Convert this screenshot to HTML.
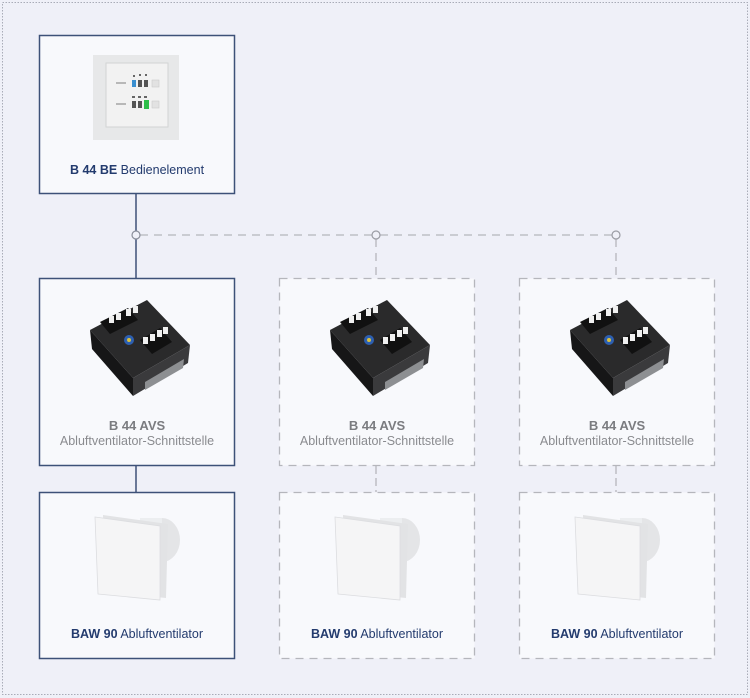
<!DOCTYPE html>
<html><head><meta charset="utf-8"><style>
html,body{margin:0;padding:0;background:#eff0f8;}
svg{display:block;}
text{font-family:"Liberation Sans",sans-serif;}
</style></head><body>
<svg width="750" height="698" viewBox="0 0 750 698" xmlns="http://www.w3.org/2000/svg">
<rect x="0" y="0" width="750" height="698" fill="#eff0f8"/>
<rect x="2.5" y="2.5" width="745" height="692" fill="none" stroke="#a9acb8" stroke-width="1" stroke-dasharray="1.5,1.5"/>

<!-- connectors -->
<line x1="136" y1="194" x2="136" y2="278" stroke="#3d5178" stroke-width="1.5"/>
<line x1="140" y1="235" x2="372" y2="235" stroke="#b5b6bc" stroke-width="1.3" stroke-dasharray="8,6"/>
<line x1="380" y1="235" x2="612" y2="235" stroke="#b5b6bc" stroke-width="1.3" stroke-dasharray="8,6"/>
<line x1="376" y1="239" x2="376" y2="278" stroke="#b5b6bc" stroke-width="1.3" stroke-dasharray="8,6"/>
<line x1="616" y1="239" x2="616" y2="278" stroke="#b5b6bc" stroke-width="1.3" stroke-dasharray="8,6"/>
<circle cx="136" cy="235" r="4" fill="#eff0f8" stroke="#8a8e9a" stroke-width="1.2"/>
<circle cx="376" cy="235" r="4" fill="#eff0f8" stroke="#9a9ca4" stroke-width="1.2"/>
<circle cx="616" cy="235" r="4" fill="#eff0f8" stroke="#9a9ca4" stroke-width="1.2"/>
<line x1="136" y1="466" x2="136" y2="492" stroke="#3d5178" stroke-width="1.5"/>
<line x1="376" y1="466" x2="376" y2="492" stroke="#b5b6bc" stroke-width="1.3" stroke-dasharray="8,4"/>
<line x1="616" y1="466" x2="616" y2="492" stroke="#b5b6bc" stroke-width="1.3" stroke-dasharray="8,4"/>

<!-- boxes -->
<rect x="39.5" y="35.5" width="195" height="158" fill="#f8f9fc" stroke="#3d5178" stroke-width="1.5"/>
<rect x="39.5" y="278.5" width="195" height="187" fill="#f8f9fc" stroke="#3d5178" stroke-width="1.5"/>
<rect x="279.5" y="278.5" width="195" height="187" fill="#f8f9fc" stroke="#b5b6bc" stroke-width="1.3" stroke-dasharray="8,6"/>
<rect x="519.5" y="278.5" width="195" height="187" fill="#f8f9fc" stroke="#b5b6bc" stroke-width="1.3" stroke-dasharray="8,6"/>
<rect x="39.5" y="492.5" width="195" height="166" fill="#f8f9fc" stroke="#3d5178" stroke-width="1.5"/>
<rect x="279.5" y="492.5" width="195" height="166" fill="#f8f9fc" stroke="#b5b6bc" stroke-width="1.3" stroke-dasharray="8,6"/>
<rect x="519.5" y="492.5" width="195" height="166" fill="#f8f9fc" stroke="#b5b6bc" stroke-width="1.3" stroke-dasharray="8,6"/>

<!-- control panel -->
<rect x="93" y="55" width="86" height="85" fill="#e7e8e9"/>
<rect x="106" y="63" width="62" height="64" fill="#f2f2f2" stroke="#d2d3d4" stroke-width="1"/>
<rect x="116" y="82" width="10" height="2" fill="#b8b8b8"/>
<rect x="132" y="80" width="4" height="7" fill="#3a8fd0"/>
<rect x="138" y="80" width="4" height="7" fill="#555"/>
<rect x="144" y="80" width="4" height="7" fill="#555"/>
<rect x="152" y="80" width="7" height="7" fill="#e2e2e2" stroke="#ccc" stroke-width="0.6"/>
<rect x="133" y="75" width="2" height="2" fill="#666"/><rect x="139" y="74" width="2" height="2" fill="#666"/><rect x="145" y="74" width="2" height="2" fill="#666"/>
<rect x="116" y="103" width="10" height="2" fill="#b8b8b8"/>
<rect x="132" y="101" width="4" height="7" fill="#555"/>
<rect x="138" y="101" width="4" height="7" fill="#555"/>
<rect x="144" y="100" width="5" height="9" fill="#2fbf4a"/>
<rect x="152" y="101" width="7" height="7" fill="#e2e2e2" stroke="#ccc" stroke-width="0.6"/>
<rect x="132" y="96" width="3" height="2" fill="#666"/><rect x="138" y="96" width="3" height="2" fill="#666"/><rect x="144" y="96" width="3" height="2" fill="#666"/>

<text x="137" y="174" text-anchor="middle" font-size="12.5" fill="#233b6e"><tspan font-weight="bold">B 44 BE</tspan> Bedienelement</text>

<!-- AVS devices -->
<g id="avs">
<polygon points="90,330 147,300 190,345 133,378" fill="#2a2a2b"/>
<polygon points="90,330 133,378 133,396 92,349" fill="#161617"/>
<polygon points="133,378 190,345 188,363 133,396" fill="#3a3a3c"/>
<polygon points="145,382 184,359 183,368 145,390" fill="#8d8f92"/>
<polygon points="100,322 128,308 138,320 110,334" fill="#111"/>
<rect x="109" y="316" width="5" height="7" fill="#f0f0f0"/><rect x="116" y="313" width="5" height="7" fill="#f0f0f0"/>
<rect x="126" y="309" width="5" height="7" fill="#f0f0f0"/><rect x="133" y="306" width="5" height="7" fill="#f0f0f0"/>
<polygon points="140,340 160,328 172,342 152,354" fill="#111"/>
<rect x="143" y="337" width="5" height="7" fill="#f0f0f0"/><rect x="150" y="334" width="5" height="7" fill="#f0f0f0"/>
<rect x="157" y="330" width="5" height="7" fill="#f0f0f0"/><rect x="163" y="327" width="5" height="7" fill="#f0f0f0"/>
<circle cx="129" cy="340" r="5" fill="#2d5fb0"/>
<circle cx="129" cy="340" r="2" fill="#d8c040"/>
</g>
<use href="#avs" x="240" y="0"/>
<use href="#avs" x="480" y="0"/>

<text x="137" y="430" text-anchor="middle" font-size="13" font-weight="bold" fill="#7b7c80">B 44 AVS</text>
<text x="137" y="445" text-anchor="middle" font-size="12.5" fill="#8a8b8f">Abluftventilator-Schnittstelle</text>
<text x="377" y="430" text-anchor="middle" font-size="13" font-weight="bold" fill="#7b7c80">B 44 AVS</text>
<text x="377" y="445" text-anchor="middle" font-size="12.5" fill="#8a8b8f">Abluftventilator-Schnittstelle</text>
<text x="617" y="430" text-anchor="middle" font-size="13" font-weight="bold" fill="#7b7c80">B 44 AVS</text>
<text x="617" y="445" text-anchor="middle" font-size="12.5" fill="#8a8b8f">Abluftventilator-Schnittstelle</text>

<!-- fans -->
<g id="fan">
<ellipse cx="162" cy="540" rx="18" ry="22" fill="#e4e5e7"/>
<rect x="140" y="518" width="22" height="44" fill="#eceef0"/>
<polygon points="103,515 168,524 166,598 105,592" fill="#e2e3e5"/>
<polygon points="95,517 160,526 160,600 98,594" fill="#f5f5f6"/>
<polygon points="95,517 160,526 160,600 98,594" fill="none" stroke="#dcdde0" stroke-width="0.8"/>
</g>
<use href="#fan" x="240" y="0"/>
<use href="#fan" x="480" y="0"/>

<text x="137" y="638" text-anchor="middle" font-size="12.5" fill="#233b6e"><tspan font-weight="bold">BAW 90</tspan> Abluftventilator</text>
<text x="377" y="638" text-anchor="middle" font-size="12.5" fill="#233b6e"><tspan font-weight="bold">BAW 90</tspan> Abluftventilator</text>
<text x="617" y="638" text-anchor="middle" font-size="12.5" fill="#233b6e"><tspan font-weight="bold">BAW 90</tspan> Abluftventilator</text>
</svg>
</body></html>
